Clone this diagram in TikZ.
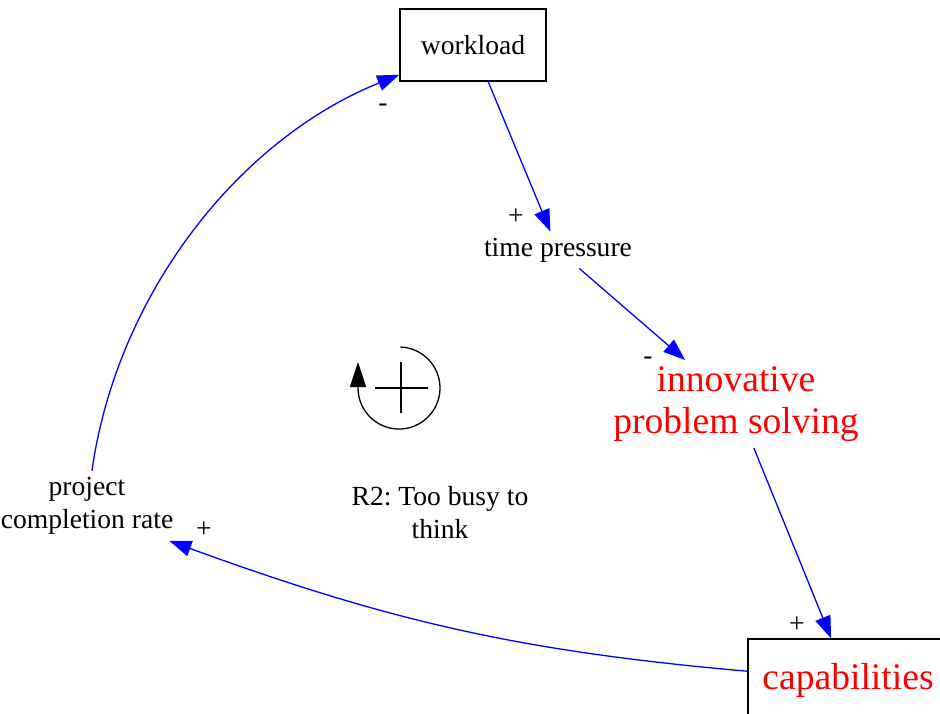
\documentclass[tikz,border=0pt]{standalone}
\usepackage{fontspec}
\setmainfont{Liberation Serif}
\usetikzlibrary{arrows.meta}
\frenchspacing

\begin{document}
\begin{tikzpicture}[x=0.5pt,y=0.5pt,
  every node/.style={font=\fontsize{13.8}{16.5}\selectfont,align=center,inner sep=3pt},
  stock/.style={draw,line width=0.75pt},
  hilite/.style={text=red,font=\fontsize{18.8}{21}\selectfont},
  link/.style={draw=blue,line width=0.65pt,-{Triangle[length=11pt,width=8pt]}}]
  \useasboundingbox (0,0) rectangle (940,-713);
  \node[stock,minimum width=73pt,minimum height=36pt] (workload) at (473,-45) {workload};
  \node (pressure) at (558,-250) {time pressure};
  \node[hilite] (innov) at (736,-404) {innovative\\problem solving};
  \node[stock,hilite,minimum width=100pt,minimum height=41pt] (capab) at (848,-680) {capabilities};
  \node[inner xsep=1pt] (completion) at (87,-506) {project\\completion rate};
  \draw[link] (workload) -- (pressure);
  \draw[link] (pressure) -- (innov);
  \draw[link] (innov) -- (capab);
  \draw[link] (capab) to[out=175,in=-20] (completion.-23);
  \draw[link] (completion) to[out=82,in=202,looseness=0.9] (workload);
  \node at (516,-217) {+}; \node at (648,-361) {-};
  \node at (797,-625) {+}; \node at (204,-530) {+};
  \node at (383,-108) {-};
  % loop marker
  \draw[line width=0.65pt,-{Triangle[length=12.5pt,width=8pt]}] (399,-388) ++(88:41) arc[start angle=88,end angle=-180,radius=41] -- ++(0,26);
  \draw[line width=1.1pt] (375,-388) -- (428,-388);
  \draw[line width=1.1pt] (401,-362) -- (401,-413);
  \node (loopname) at (440,-513) {R2: Too busy to\\think};
\end{tikzpicture}
\end{document}
